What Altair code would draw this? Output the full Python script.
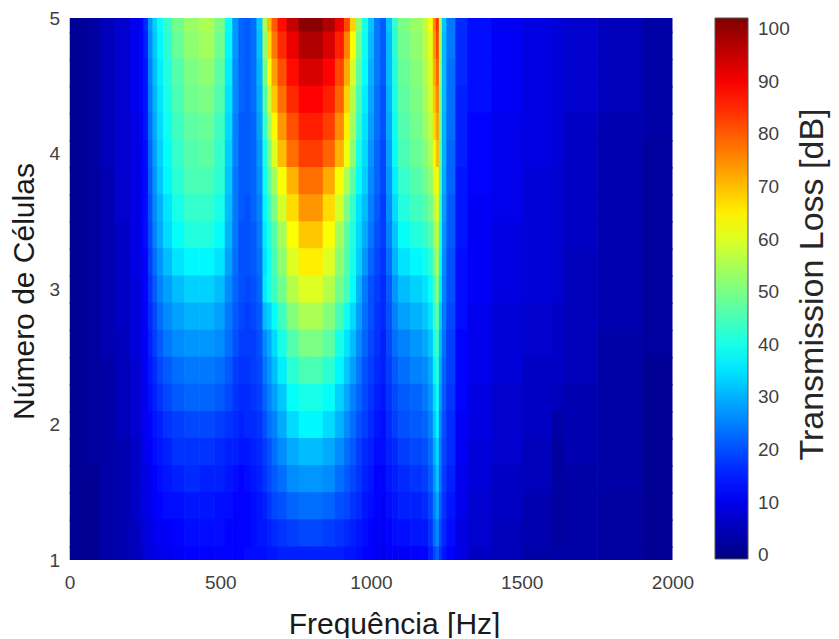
import altair as alt
import pandas as pd

freq_edges = [0,50,100,150,200,230,245,260,275,290,310,340,380,430,480,515,540,560,580,600,620,640,655,670,
              690,720,760,800,840,880,910,930,950,970,990,1010,1030,1050,1070,1090,1130,1170,1190,1205,1215,
              1225,1235,1250,1280,1320,1400,1500,1600,1640,1750,1900,2000]
cells_axis = [1, 2, 3, 4, 5]
freq_ticks = [0, 500, 1000, 1500, 2000]
bar_ticks = [0, 10, 20, 30, 40, 50, 60, 70, 80, 90, 100]
bar_min, bar_max = -1, 102

tl_50 = [1,2,5,7,10,12, 16,27,33,38,43,49,53,55,50,38, 27,22,21,23,32, 55,70,80,88,95,101,101,97,91,82,68,52,40,32, 24,21,32, 43,50,53,57,63, 75,84,55,32, 24,16,13,11,9,8,7,5,3]
tl_48 = [1,2,5,7,10,12, 15,26,32,37,42,48,52,54,49,37, 27,22,21,23,31, 52,67,77,85,91,97,97,93,86,76,63,49,39,31, 24,21,31, 42,49,52,56,61, 73,82,54,31, 24,16,13,11,9,8,7,5,3]
tl_46 = [1,2,5,7,10,12, 14,25,31,36,41,46,50,52,47,36, 26,22,21,23,30, 49,63,73,81,88,93,93,89,82,72,59,47,38,30, 24,21,31, 41,48,51,55,60, 71,79,52,31, 23,16,13,11,9,8,7,5,3]
tl_44 = [1,2,5,7,10,12, 14,24,30,35,40,45,49,50,46,35, 26,22,21,23,29, 46,58,69,78,85,89,89,86,79,68,56,45,36,29, 23,20,30, 40,47,50,54,59, 69,76,50,31, 23,15,13,11,9,8,7,5,3]
tl_42 = [1,2,5,7,9,11, 14,23,29,34,39,44,47,48,44,34, 25,21,21,22,28, 43,54,64,74,81,86,86,83,75,65,54,43,35,28, 23,20,29, 39,46,49,53,57, 67,73,49,30, 23,15,12,10,9,8,6,4,3]
tl_40 = [1,2,5,7,9,11, 13,22,28,33,38,43,46,47,43,33, 25,21,21,22,27, 40,50,60,70,78,83,83,79,71,62,52,40,34,27, 22,19,28, 38,45,48,51,55, 64,70,47,30, 22,15,12,10,9,8,6,4,2]
tl_38 = [1,2,4,7,9,11, 13,21,27,32,37,42,45,45,42,32, 24,21,21,22,26, 39,47,54,63,71,78,78,72,63,55,47,38,33,26, 22,19,27, 36,43,46,49,52, 60,64,45,29, 22,14,12,10,8,7,6,4,2]
tl_36 = [1,2,4,7,9,11, 13,20,26,30,35,40,43,43,40,31, 24,21,20,22,25, 37,44,50,59,67,74,74,67,59,50,43,35,31,25, 21,18,26, 34,41,44,46,49, 56,60,43,28, 21,14,11,10,8,7,6,4,2]
tl_34 = [1,2,4,6,9,11, 13,19,25,29,34,38,41,41,38,30, 24,20,20,21,24, 36,41,46,54,63,69,69,63,54,47,41,34,29,24, 20,18,25, 32,38,41,43,46, 53,57,41,27, 21,14,11,9,8,7,6,4,2]
tl_32 = [1,2,4,6,9,10, 12,18,23,27,31,35,37,37,35,28, 23,20,20,21,23, 35,39,45,52,60,65,65,60,52,46,40,33,27,22, 19,17,23, 30,35,37,39,42, 50,54,38,26, 20,13,11,9,8,7,5,4,2]
tl_30 = [1,2,4,6,8,10, 12,17,21,25,28,31,33,33,31,26, 22,20,19,20,22, 36,40,44,49,56,60,60,56,49,45,38,30,24,20, 18,16,21, 27,31,33,35,38, 46,51,36,25, 20,13,11,9,8,7,5,4,2]
tl_28 = [1,2,4,6,8,10, 11,16,19,23,26,28,30,30,28,24, 21,19,18,19,21, 31,33,38,44,51,55,55,51,45,39,34,28,23,20, 17,16,20, 25,28,30,32,35, 43,47,33,24, 19,13,10,8,7,6,5,4,2]
tl_26 = [1,2,4,5,8,10, 11,15,18,21,24,26,27,27,26,23, 20,18,18,18,20, 26,29,34,40,46,50,50,47,40,35,31,26,22,19, 17,15,19, 23,25,27,29,32, 40,44,31,23, 18,12,10,8,7,6,5,3,2]
tl_24 = [1,2,3,5,7,9, 11,14,16,19,21,23,24,24,23,21, 18,17,17,18,19, 24,27,31,36,42,45,45,42,37,32,28,24,20,18, 16,15,18, 21,23,25,26,29, 37,41,29,22, 18,12,10,8,6,6,5,3,1]
tl_22 = [1,2,3,5,7,9, 10,13,15,17,19,21,22,22,21,19, 17,16,16,17,18, 22,25,28,32,38,40,40,38,33,29,25,22,19,17, 15,14,17, 19,21,22,24,27, 34,39,27,21, 17,12,9,7,6,5,4,3,1]
tl_20 = [1,2,3,5,7,9, 10,12,14,15,17,18,19,19,18,17, 16,15,16,16,17, 20,23,25,29,34,37,37,34,30,26,23,20,18,16, 14,13,16, 18,20,21,22,25, 32,37,25,20, 16,11,9,7,6,3,4,3,1]
tl_18 = [1,2,3,4,6,8, 10,11,13,14,15,17,17,17,16,15, 15,14,14,15,16, 18,20,23,26,29,31,31,29,26,23,21,18,16,15, 13,13,15, 16,18,19,20,23, 29,34,24,19, 16,11,8,7,5,2,4,3,1]
tl_16 = [1,1,3,4,6,8, 9,10,12,13,14,15,16,15,15,14, 13,12,13,14,15, 17,19,21,23,26,27,27,26,23,21,19,17,15,14, 12,12,14, 15,16,17,18,21, 27,32,23,18, 15,10,8,6,5,2,3,3,1]
tl_14 = [1,1,3,4,6,8, 9,10,11,12,13,13,14,14,13,13, 12,12,12,13,14, 15,17,19,20,22,23,23,22,20,19,17,16,14,13, 12,11,13, 14,15,15,16,19, 25,29,21,17, 14,10,7,6,4,2,3,2,1]
tl_12 = [1,1,3,4,5,7, 8,9,10,11,11,12,13,13,13,12, 12,12,12,13,14, 14,15,16,17,18,19,19,18,17,16,15,14,13,12, 11,11,12, 13,13,14,14,17, 23,26,19,16, 13,9,7,5,4,2,3,2,1]
tl_10 = [1,1,3,4,5,6, 8,9,9,10,10,11,12,12,12,12, 12,12,13,13,13, 13,14,14,15,15,15,15,15,15,14,14,13,12,12, 11,10,11, 11,11,12,12,15, 19,22,17,14, 12,9,6,5,3,3,3,2,1]

cell_rows = [5.0,4.8,4.6,4.4,4.2,4.0,3.8,3.6,3.4,3.2,3.0,2.8,2.6,2.4,2.2,2.0,1.8,1.6,1.4,1.2,1.0]
tl_rows = [tl_50,tl_48,tl_46,tl_44,tl_42,tl_40,tl_38,tl_36,tl_34,tl_32,tl_30,tl_28,tl_26,tl_24,tl_22,tl_20,tl_18,tl_16,tl_14,tl_12,tl_10]

records = []
for n, row in zip(cell_rows, tl_rows):
    assert len(row) == len(freq_edges) - 1
    for i, v in enumerate(row):
        # a hair of overlap between neighbours hides the antialiasing seams
        records.append({"f0": freq_edges[i], "f1": freq_edges[i + 1] + 2, "n0": round(n - 0.112, 3), "n1": round(n + 0.1, 3), "tl": v})
df = pd.DataFrame(records)
ticks_df = pd.DataFrame({"t": bar_ticks})

span = bar_max - bar_min
jet_domain = [bar_min + span * s for s in (0, 0.125, 0.375, 0.625, 0.875, 1)]
jet_range = ["#000080", "#0000ff", "#00ffff", "#ffff00", "#ff0000", "#800000"]
color_scale = alt.Scale(domain=jet_domain, range=jet_range, interpolate="rgb")

FONT = "Liberation Sans"
heat = alt.Chart(df).mark_rect(clip=True).encode(
    x=alt.X("f0:Q", scale=alt.Scale(domain=[0, 2000], nice=False),
            axis=alt.Axis(values=freq_ticks, format="d", title="Frequência [Hz]", grid=False, domain=False,
                          ticks=False, labelPadding=13, labelFontSize=19, labelColor="#404040", labelFont=FONT,
                          titleFont=FONT, titleFontSize=30, titleFontWeight="normal", titleColor="#1a1a1a",
                          titleX=324.5, titleY=73, titleBaseline="alphabetic",
                          labelFlush=False, labelOverlap=False)),
    x2="f1:Q",
    y=alt.Y("n0:Q", scale=alt.Scale(domain=[1, 5], nice=False),
            axis=alt.Axis(values=cells_axis, format="d", title="Número de Células", grid=False, domain=False,
                          ticks=False, labelPadding=10, labelFontSize=19, labelColor="#404040", labelFont=FONT,
                          titleFont=FONT, titleFontSize=30, titleFontWeight="normal", titleColor="#1a1a1a",
                          titlePadding=9, titleY=273, labelFlush=False, labelOverlap=False)),
    y2="n1:Q",
    color=alt.Color("tl:Q", scale=color_scale,
                    legend=alt.Legend(orient="none", legendX=645.5, legendY=0, title=None, type="gradient",
                                      gradientLength=541, gradientThickness=33, gradientStrokeColor="#555555",
                                      gradientStrokeWidth=1, labelOpacity=0, labelFontSize=1, direction="vertical")),
)

bar_axis = alt.Chart(ticks_df).mark_rule(color="#333333", strokeWidth=1).encode(
    x=alt.value(672.5),
    x2=alt.value(678.5),
    y=alt.Y("t:Q", scale=alt.Scale(domain=[bar_min, bar_max], nice=False),
            axis=alt.Axis(orient="right", offset=76, values=bar_ticks, format="d", grid=False, domain=False,
                          ticks=False, labelPadding=9, labelFontSize=19, labelColor="#404040", labelFont=FONT,
                          title="Transmission Loss [dB]", titleAngle=270, titleFont=FONT, titleFontSize=34,
                          titleFontWeight="normal", titleColor="#262626", titlePadding=40, titleY=266,
                          labelFlush=False, labelOverlap=False)),
)

chart = alt.layer(heat, bar_axis).resolve_scale(y="independent").properties(
    width=603, height=542,
    autosize=alt.AutoSizeParams(type="none"),
    padding={"left": 61.5, "top": 10, "right": 158, "bottom": 78},
    background="white",
).configure_view(stroke=None)

chart.save("out.html", embed_options={"renderer": "svg", "actions": False})
